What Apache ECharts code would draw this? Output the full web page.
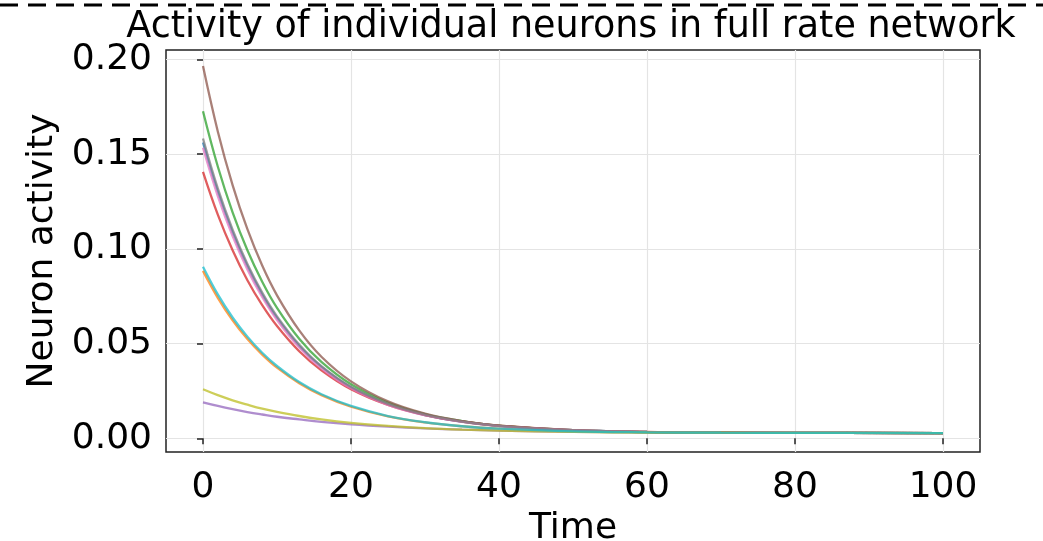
<!DOCTYPE html>
<html>
<head>
<meta charset="utf-8">
<script src="https://cdn.jsdelivr.net/npm/echarts@6/dist/echarts.min.js"></script>
<style>
    html, body { margin: 0; padding: 0; background: #fff; }
    #chart { width: 1043px; height: 541px; }
</style>
</head>
<body>
<div id="chart"></div>
<script>
// sample times
const times = [0, 2, 4, 6, 8, 10, 13, 16, 20, 25, 30, 35, 40, 50, 60, 70, 80, 100];

// neuron activity, one array per neuron (matplotlib tab10 order)
const neuron0 = [0.1562, 0.1303, 0.1087, 0.0908, 0.0759, 0.0636, 0.0488, 0.0377, 0.0269, 0.0180, 0.0123, 0.0088, 0.0066, 0.0043, 0.0034, 0.0030, 0.0029, 0.0028];
const neuron1 = [0.0884, 0.0742, 0.0623, 0.0524, 0.0442, 0.0373, 0.0291, 0.0228, 0.0167, 0.0116, 0.0084, 0.0064, 0.0051, 0.0037, 0.0032, 0.0030, 0.0029, 0.0028];
const neuron2 = [0.1727, 0.1435, 0.1193, 0.0993, 0.0827, 0.0689, 0.0526, 0.0404, 0.0286, 0.0189, 0.0128, 0.0091, 0.0067, 0.0043, 0.0034, 0.0030, 0.0029, 0.0028];
const neuron3 = [0.1407, 0.1181, 0.0993, 0.0835, 0.0703, 0.0593, 0.0460, 0.0359, 0.0259, 0.0176, 0.0123, 0.0089, 0.0067, 0.0044, 0.0034, 0.0031, 0.0029, 0.0028];
const neuron4 = [0.0190, 0.0171, 0.0154, 0.0139, 0.0126, 0.0114, 0.0100, 0.0087, 0.0074, 0.0062, 0.0053, 0.0046, 0.0041, 0.0035, 0.0032, 0.0030, 0.0029, 0.0028];
const neuron5 = [0.1965, 0.1620, 0.1337, 0.1104, 0.0912, 0.0755, 0.0570, 0.0431, 0.0301, 0.0195, 0.0130, 0.0091, 0.0066, 0.0042, 0.0033, 0.0030, 0.0029, 0.0028];
const neuron6 = [0.1534, 0.1279, 0.1068, 0.0892, 0.0746, 0.0625, 0.0480, 0.0370, 0.0264, 0.0177, 0.0122, 0.0087, 0.0065, 0.0043, 0.0034, 0.0030, 0.0029, 0.0028];
const neuron7 = [0.1583, 0.1320, 0.1102, 0.0920, 0.0769, 0.0644, 0.0495, 0.0381, 0.0272, 0.0182, 0.0125, 0.0089, 0.0066, 0.0043, 0.0034, 0.0030, 0.0029, 0.0028];
const neuron8 = [0.0259, 0.0228, 0.0201, 0.0178, 0.0157, 0.0140, 0.0118, 0.0100, 0.0082, 0.0066, 0.0054, 0.0046, 0.0041, 0.0034, 0.0031, 0.0030, 0.0029, 0.0028];
const neuron9 = [0.0906, 0.0760, 0.0638, 0.0537, 0.0452, 0.0382, 0.0297, 0.0233, 0.0171, 0.0118, 0.0085, 0.0064, 0.0051, 0.0037, 0.0032, 0.0030, 0.0029, 0.0028];

const neurons = [neuron0, neuron1, neuron2, neuron3, neuron4, neuron5, neuron6, neuron7, neuron8, neuron9];
const colors = ['#1f77b4', '#ff7f0e', '#2ca02c', '#d62728', '#9467bd', '#8c564b', '#e377c2', '#7f7f7f', '#bcbd22', '#17becf'];

const xTicks = [0, 20, 40, 60, 80, 100];
const yTicks = [0, 0.05, 0.10, 0.15, 0.20];

const font = 'DejaVu Sans';

const chartOptions = {
    animation: false,
    backgroundColor: '#fff',
    textStyle: { fontFamily: font },
    title: {
        text: 'Activity of individual neurons in full rate network',
        left: 566,
        top: 4,
        textAlign: 'center',
        textStyle: {
            fontFamily: font,
            fontSize: 36.5,
            fontWeight: 'normal',
            color: '#000'
        }
    },
    grid: {
        left: 166,
        right: 63,
        top: 50,
        bottom: 89,
        outerBoundsMode: 'none',
        containLabel: false,
        show: true,
        borderColor: '#222',
        borderWidth: 1.5,
        backgroundColor: 'transparent'
    },
    xAxis: {
        type: 'value',
        min: -5,
        max: 105,
        name: 'Time',
        nameLocation: 'middle',
        nameGap: 53,
        nameTextStyle: { fontFamily: font, fontSize: 36, color: '#000' },
        axisLine: { show: false },
        axisTick: {
            show: true,
            length: 6,
            customValues: xTicks,
            lineStyle: { color: '#222', width: 1.5 }
        },
        axisLabel: {
            customValues: xTicks,
            margin: 18,
            fontFamily: font,
            fontSize: 36,
            color: '#000'
        },
        splitLine: { show: true, lineStyle: { color: '#e4e4e4', width: 1.2 } }
    },
    yAxis: {
        type: 'value',
        min: -0.0072,
        max: 0.205,
        name: 'Neuron activity',
        nameLocation: 'middle',
        nameGap: 95,
        nameTextStyle: { fontFamily: font, fontSize: 36, color: '#000' },
        axisLine: { show: false },
        axisTick: {
            show: true,
            length: 6,
            customValues: yTicks,
            lineStyle: { color: '#222', width: 1.5 }
        },
        axisLabel: {
            customValues: yTicks,
            margin: 14,
            fontFamily: font,
            fontSize: 36,
            color: '#000',
            formatter: v => v.toFixed(2)
        },
        splitLine: { show: true, lineStyle: { color: '#e4e4e4', width: 1.2 } }
    },
    graphic: [
        {
            type: 'line',
            shape: { x1: 0, y1: 5, x2: 1043, y2: 5 },
            style: { stroke: '#000', lineWidth: 3, lineDash: [18, 10] },
            silent: true
        }
    ],
    series: neurons.map((vals, i) => ({
        name: 'neuron ' + i,
        type: 'line',
        data: vals.map((v, j) => [times[j], v]),
        showSymbol: false,
        smooth: 0.4,
        color: colors[i],
        lineStyle: { color: colors[i], width: 2.3, opacity: 0.75 }
    }))
};

const chart = echarts.init(document.getElementById('chart'));
chart.setOption(chartOptions);
</script>
</body>
</html>
